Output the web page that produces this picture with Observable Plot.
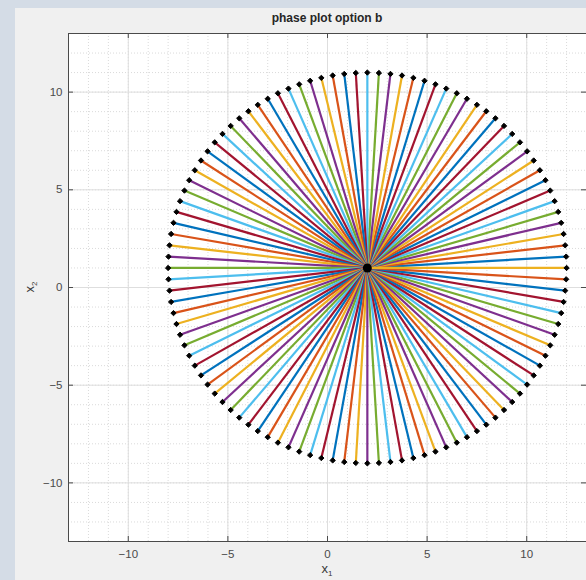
<!DOCTYPE html>
<html>
<head>
<meta charset="utf-8">
<script src="https://cdn.jsdelivr.net/npm/d3@7"></script>
<script src="https://cdn.jsdelivr.net/npm/@observablehq/plot@0.6"></script>
<style>
  html, body { margin: 0; padding: 0; }
  body { width: 586px; height: 580px; background: #d4dce6; position: relative; overflow: hidden; font-family: "Liberation Sans", Arial, Helvetica, sans-serif; }
  #panel { position: absolute; left: 15px; top: 8px; width: 571px; height: 572px; background: #f0f0f0; }
  #title { position: absolute; left: 68px; width: 518px; top: 10px; text-align: center; font-size: 12px; line-height: 16px; font-weight: bold; color: #262626; }
  #xlabel { position: absolute; left: 68px; width: 518px; top: 562px; text-align: center; font-size: 13px; line-height: 14px; color: #3a3a3a; }
  #ylabel { position: absolute; left: 30px; top: 287px; width: 0; height: 0; }
  #ylabel span { position: absolute; transform: translate(-50%, -50%) rotate(-90deg); font-size: 13px; line-height: 14px; color: #3a3a3a; white-space: nowrap; }
  sub { font-size: 8px; vertical-align: -3px; line-height: 0; }
  #chart { position: absolute; left: 15px; top: 8px; }
</style>
</head>
<body>
<div id="panel"></div>
<div id="chart"></div>
<div id="title">phase plot option b</div>
<div id="xlabel">x<sub>1</sub></div>
<div id="ylabel"><span>x<sub>2</sub></span></div>
<script>
// Center of the phase portrait
const centerX1 = [2];
const centerX2 = [1];

// End points of the 108 rays (x1, x2), in drawing order
const x1End = [
  11.98, 11.93, 11.85, 11.73, 11.58, 11.40, 11.18, 10.94, 10.66, 10.35, 10.02, 9.66, 9.27, 8.86, 8.43, 7.97, 7.50, 7.00, 6.49, 5.96, 5.42, 4.87, 4.31, 3.74, 3.16, 2.58, 2.00,
  1.42, 0.84, 0.26, -0.31, -0.87, -1.42, -1.96, -2.49, -3.00, -3.50, -3.97, -4.43, -4.86, -5.27, -5.66, -6.02, -6.35, -6.66, -6.94, -7.18, -7.40, -7.58, -7.73, -7.85, -7.93, -7.98, -8.00,
  -7.98, -7.93, -7.85, -7.73, -7.58, -7.40, -7.18, -6.94, -6.66, -6.35, -6.02, -5.66, -5.27, -4.86, -4.43, -3.97, -3.50, -3.00, -2.49, -1.96, -1.42, -0.87, -0.31, 0.26, 0.84, 1.42, 2.00,
  2.58, 3.16, 3.74, 4.31, 4.87, 5.42, 5.96, 6.49, 7.00, 7.50, 7.97, 8.43, 8.86, 9.27, 9.66, 10.02, 10.35, 10.66, 10.94, 11.18, 11.40, 11.58, 11.73, 11.85, 11.93, 11.98, 12.00
];
const x2End = [
  1.58, 2.16, 2.74, 3.31, 3.87, 4.42, 4.96, 5.49, 6.00, 6.50, 6.97, 7.43, 7.86, 8.27, 8.66, 9.02, 9.35, 9.66, 9.94, 10.18, 10.40, 10.58, 10.73, 10.85, 10.93, 10.98, 11.00,
  10.98, 10.93, 10.85, 10.73, 10.58, 10.40, 10.18, 9.94, 9.66, 9.35, 9.02, 8.66, 8.27, 7.86, 7.43, 6.97, 6.50, 6.00, 5.49, 4.96, 4.42, 3.87, 3.31, 2.74, 2.16, 1.58, 1.00,
  0.42, -0.16, -0.74, -1.31, -1.87, -2.42, -2.96, -3.49, -4.00, -4.50, -4.97, -5.43, -5.86, -6.27, -6.66, -7.02, -7.35, -7.66, -7.94, -8.18, -8.40, -8.58, -8.73, -8.85, -8.93, -8.98, -9.00,
  -8.98, -8.93, -8.85, -8.73, -8.58, -8.40, -8.18, -7.94, -7.66, -7.35, -7.02, -6.66, -6.27, -5.86, -5.43, -4.97, -4.50, -4.00, -3.49, -2.96, -2.42, -1.87, -1.31, -0.74, -0.16, 0.42, 1.00
];

// Axis ticks
const xTicks = [-10, -5, 0, 5, 10];
const yTicks = [-10, -5, 0, 5, 10];
const minorTicks = [-13, -12, -11, -10, -9, -8, -7, -6, -5, -4, -3, -2, -1, 0, 1, 2, 3, 4, 5, 6, 7, 8, 9, 10, 11, 12, 13];

// MATLAB default colour order
const palette = ["#0072BD", "#D95319", "#EDB120", "#7E2F8E", "#77AC30", "#4DBEEE", "#A2142F"];

const rays = x1End.map((v, i) => ({x1: v, x2: x2End[i], k: i}));
const centers = centerX1.map((v, i) => ({x1: v, x2: centerX2[i]}));

const W = 571, H = 572, mt = 25, mb = 39, ml = 53, mr = 0;
const innerW = W - ml - mr, innerH = H - mt - mb;
const tickLen = 5;
const axisColor = "#4a4a4a";

const chart = Plot.plot({
  width: W,
  height: H,
  marginTop: mt,
  marginBottom: mb,
  marginLeft: ml,
  marginRight: mr,
  style: {background: "transparent", fontFamily: "'Liberation Sans', Arial, Helvetica, sans-serif", fontSize: "11.5px", color: axisColor},
  x: {domain: [-13, 13]},
  y: {domain: [-13, 13]},
  marks: [
    Plot.frame({fill: "white", stroke: null}),
    Plot.gridX(minorTicks, {stroke: "#dadada", strokeOpacity: 1, strokeDasharray: "1,2"}),
    Plot.gridY(minorTicks, {stroke: "#dadada", strokeOpacity: 1, strokeDasharray: "1,2"}),
    Plot.gridX(xTicks, {stroke: "#dedede", strokeOpacity: 1}),
    Plot.gridY(yTicks, {stroke: "#dedede", strokeOpacity: 1}),
    Plot.link(rays, {
      x1: () => centerX1[0], y1: () => centerX2[0],
      x2: "x1", y2: "x2",
      stroke: d => palette[d.k % palette.length],
      strokeWidth: 2.2
    }),
    Plot.dot(rays, {x: "x1", y: "x2", symbol: "diamond2", r: 2.4, fill: "black", stroke: "black", strokeWidth: 1}),
    Plot.dot(centers, {x: "x1", y: "x2", r: 4.5, fill: "black"}),
    // inward tick marks on all four sides
    Plot.tickX(xTicks, {x: d => d, insetTop: innerH - tickLen, stroke: axisColor}),
    Plot.tickX(xTicks, {x: d => d, insetBottom: innerH - tickLen, stroke: axisColor}),
    Plot.tickY(yTicks, {y: d => d, insetRight: innerW - tickLen, stroke: axisColor}),
    Plot.tickY(yTicks, {y: d => d, insetLeft: innerW - tickLen, stroke: axisColor}),
    Plot.axisX(xTicks, {tickSize: 0, tickPadding: 8, label: null}),
    Plot.axisY(yTicks, {tickSize: 0, tickPadding: 6, label: null}),
    Plot.frame({stroke: axisColor, strokeWidth: 1})
  ]
});
document.getElementById("chart").appendChild(chart);
</script>
</body>
</html>
